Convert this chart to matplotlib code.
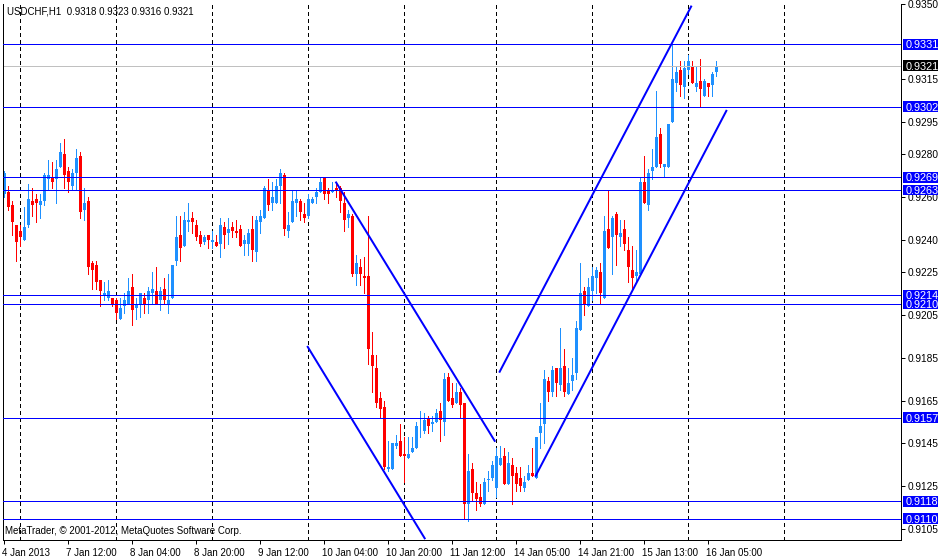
import matplotlib
matplotlib.use("Agg")
import matplotlib.pyplot as plt
from matplotlib.patches import Rectangle
from matplotlib.transforms import blended_transform_factory, ScaledTranslation

# hourly USDCHF bars, 4 Jan 2013 20:00 .. 16 Jan 2013 07:00
opens = [
    0.9261, 0.9262, 0.9256, 0.9247, 0.9244, 0.9240, 0.9247, 0.9258, 0.9259, 0.9256,
    0.9258, 0.9268, 0.9269, 0.9268, 0.9274, 0.9280, 0.9272, 0.9265, 0.9271, 0.9279,
    0.9254, 0.9258, 0.9229, 0.9228, 0.9221, 0.9214, 0.9213, 0.9213, 0.9212, 0.9203,
    0.9209, 0.9210, 0.9218, 0.9208, 0.9210, 0.9213, 0.9212, 0.9215, 0.9216, 0.9212,
    0.9217, 0.9210, 0.9213, 0.9230, 0.9242, 0.9237, 0.9248, 0.9250, 0.9247, 0.9242,
    0.9239, 0.9242, 0.9239, 0.9239, 0.9238, 0.9246, 0.9243, 0.9246, 0.9244, 0.9245,
    0.9238, 0.9238, 0.9245, 0.9234, 0.9248, 0.9250, 0.9263, 0.9257, 0.9257, 0.9265,
    0.9270, 0.9244, 0.9248, 0.9257, 0.9258, 0.9252, 0.9251, 0.9257, 0.9260, 0.9262,
    0.9269, 0.9263, 0.9262, 0.9264, 0.9264, 0.9257, 0.9250, 0.9251, 0.9224, 0.9227,
    0.9223, 0.9223, 0.9186, 0.9180, 0.9166, 0.9162, 0.9133, 0.9133, 0.9144, 0.9146,
    0.9140, 0.9138, 0.9141, 0.9143, 0.9152, 0.9151, 0.9157, 0.9154, 0.9155, 0.9160,
    0.9155, 0.9176, 0.9166, 0.9164, 0.9169, 0.9164, 0.9117, 0.9133, 0.9122, 0.9120,
    0.9117, 0.9128, 0.9129, 0.9124, 0.9135, 0.9139, 0.9126, 0.9135, 0.9131, 0.9129,
    0.9124, 0.9128, 0.9131, 0.9129, 0.9150, 0.9154, 0.9174, 0.9169, 0.9180, 0.9172,
    0.9181, 0.9168, 0.9174, 0.9178, 0.9198, 0.9216, 0.9209, 0.9216, 0.9222, 0.9225,
    0.9213, 0.9245, 0.9241, 0.9252, 0.9241, 0.9245, 0.9235, 0.9226, 0.9223, 0.9224,
    0.9267, 0.9256, 0.9272, 0.9274, 0.9289, 0.9274, 0.9274, 0.9295, 0.9313, 0.9319,
    0.9311, 0.9319, 0.9321, 0.9311, 0.9314, 0.9307, 0.9313, 0.9312, 0.9318,
]
highs = [
    0.9272, 0.9265, 0.9258, 0.9247, 0.9247, 0.9255, 0.9266, 0.9264, 0.9261, 0.9261,
    0.9271, 0.9277, 0.9276, 0.9277, 0.9285, 0.9287, 0.9274, 0.9273, 0.9282, 0.9281,
    0.9264, 0.9260, 0.9230, 0.9230, 0.9221, 0.9220, 0.9221, 0.9213, 0.9213, 0.9213,
    0.9215, 0.9222, 0.9224, 0.9213, 0.9215, 0.9215, 0.9218, 0.9225, 0.9227, 0.9218,
    0.9222, 0.9224, 0.9228, 0.9251, 0.9251, 0.9253, 0.9257, 0.9253, 0.9249, 0.9244,
    0.9242, 0.9242, 0.9244, 0.9242, 0.9250, 0.9248, 0.9250, 0.9248, 0.9249, 0.9247,
    0.9242, 0.9245, 0.9251, 0.9251, 0.9254, 0.9265, 0.9268, 0.9267, 0.9268, 0.9273,
    0.9271, 0.9253, 0.9263, 0.9263, 0.9259, 0.9257, 0.9261, 0.9260, 0.9264, 0.9269,
    0.9269, 0.9264, 0.9267, 0.9267, 0.9265, 0.9262, 0.9254, 0.9252, 0.9233, 0.9231,
    0.9232, 0.9251, 0.9197, 0.9186, 0.9169, 0.9165, 0.9146, 0.9145, 0.9149, 0.9154,
    0.9148, 0.9148, 0.9148, 0.9155, 0.9160, 0.9159, 0.9158, 0.9158, 0.9161, 0.9164,
    0.9178, 0.9178, 0.9173, 0.9173, 0.9171, 0.9164, 0.9140, 0.9136, 0.9127, 0.9126,
    0.9129, 0.9132, 0.9137, 0.9143, 0.9144, 0.9143, 0.9141, 0.9138, 0.9134, 0.9134,
    0.9130, 0.9135, 0.9143, 0.9148, 0.9164, 0.9179, 0.9176, 0.9181, 0.9180, 0.9199,
    0.9189, 0.9180, 0.9185, 0.9202, 0.9229, 0.9218, 0.9222, 0.9227, 0.9227, 0.9229,
    0.9251, 0.9263, 0.9251, 0.9253, 0.9249, 0.9249, 0.9241, 0.9237, 0.9235, 0.9269,
    0.9279, 0.9273, 0.9282, 0.9309, 0.9292, 0.9275, 0.9294, 0.9331, 0.9321, 0.9323,
    0.9323, 0.9326, 0.9323, 0.9321, 0.9324, 0.9315, 0.9313, 0.9318, 0.9323,
]
lows = [
    0.9260, 0.9254, 0.9242, 0.9230, 0.9237, 0.9240, 0.9246, 0.9251, 0.9248, 0.9250,
    0.9256, 0.9263, 0.9264, 0.9257, 0.9274, 0.9264, 0.9262, 0.9263, 0.9263, 0.9250,
    0.9249, 0.9224, 0.9217, 0.9217, 0.9209, 0.9212, 0.9212, 0.9209, 0.9203, 0.9203,
    0.9206, 0.9210, 0.9200, 0.9203, 0.9204, 0.9206, 0.9206, 0.9210, 0.9210, 0.9207,
    0.9210, 0.9206, 0.9213, 0.9228, 0.9230, 0.9237, 0.9244, 0.9243, 0.9240, 0.9237,
    0.9238, 0.9236, 0.9236, 0.9237, 0.9232, 0.9236, 0.9238, 0.9241, 0.9241, 0.9237,
    0.9233, 0.9233, 0.9230, 0.9230, 0.9243, 0.9250, 0.9254, 0.9254, 0.9257, 0.9257,
    0.9242, 0.9241, 0.9248, 0.9251, 0.9249, 0.9248, 0.9250, 0.9257, 0.9257, 0.9262,
    0.9259, 0.9257, 0.9262, 0.9260, 0.9253, 0.9244, 0.9246, 0.9223, 0.9219, 0.9219,
    0.9215, 0.9182, 0.9169, 0.9162, 0.9157, 0.9133, 0.9132, 0.9133, 0.9143, 0.9139,
    0.9127, 0.9138, 0.9141, 0.9143, 0.9148, 0.9150, 0.9150, 0.9151, 0.9155, 0.9146,
    0.9149, 0.9165, 0.9162, 0.9164, 0.9157, 0.9110, 0.9109, 0.9118, 0.9114, 0.9116,
    0.9117, 0.9123, 0.9128, 0.9120, 0.9135, 0.9126, 0.9126, 0.9117, 0.9123, 0.9123,
    0.9123, 0.9128, 0.9130, 0.9129, 0.9143, 0.9145, 0.9165, 0.9167, 0.9167, 0.9170,
    0.9167, 0.9168, 0.9170, 0.9175, 0.9198, 0.9205, 0.9209, 0.9212, 0.9215, 0.9210,
    0.9213, 0.9236, 0.9224, 0.9228, 0.9237, 0.9235, 0.9220, 0.9217, 0.9220, 0.9224,
    0.9257, 0.9254, 0.9268, 0.9274, 0.9274, 0.9269, 0.9274, 0.9295, 0.9309, 0.9307,
    0.9306, 0.9317, 0.9313, 0.9309, 0.9302, 0.9307, 0.9307, 0.9307, 0.9316,
]
closes = [
    0.9271, 0.9255, 0.9248, 0.9239, 0.9241, 0.9246, 0.9259, 0.9256, 0.9257, 0.9258,
    0.9270, 0.9270, 0.9267, 0.9273, 0.9281, 0.9270, 0.9267, 0.9271, 0.9278, 0.9253,
    0.9257, 0.9227, 0.9226, 0.9220, 0.9216, 0.9215, 0.9216, 0.9210, 0.9206, 0.9208,
    0.9212, 0.9216, 0.9207, 0.9210, 0.9215, 0.9210, 0.9216, 0.9217, 0.9210, 0.9216,
    0.9212, 0.9212, 0.9228, 0.9241, 0.9236, 0.9249, 0.9249, 0.9248, 0.9241, 0.9238,
    0.9241, 0.9240, 0.9240, 0.9237, 0.9247, 0.9242, 0.9245, 0.9244, 0.9243, 0.9237,
    0.9240, 0.9243, 0.9235, 0.9249, 0.9251, 0.9264, 0.9256, 0.9260, 0.9265, 0.9271,
    0.9245, 0.9247, 0.9258, 0.9259, 0.9253, 0.9250, 0.9259, 0.9259, 0.9262, 0.9267,
    0.9261, 0.9261, 0.9263, 0.9263, 0.9258, 0.9249, 0.9252, 0.9224, 0.9229, 0.9224,
    0.9222, 0.9189, 0.9181, 0.9164, 0.9161, 0.9134, 0.9134, 0.9145, 0.9145, 0.9139,
    0.9139, 0.9140, 0.9143, 0.9153, 0.9152, 0.9156, 0.9153, 0.9155, 0.9159, 0.9156,
    0.9175, 0.9165, 0.9163, 0.9169, 0.9163, 0.9117, 0.9132, 0.9122, 0.9119, 0.9117,
    0.9127, 0.9128, 0.9135, 0.9139, 0.9138, 0.9126, 0.9136, 0.9130, 0.9126, 0.9125,
    0.9127, 0.9131, 0.9130, 0.9148, 0.9153, 0.9175, 0.9169, 0.9179, 0.9173, 0.9180,
    0.9169, 0.9173, 0.9177, 0.9199, 0.9215, 0.9210, 0.9218, 0.9223, 0.9226, 0.9215,
    0.9244, 0.9236, 0.9250, 0.9242, 0.9243, 0.9238, 0.9227, 0.9222, 0.9225, 0.9267,
    0.9257, 0.9271, 0.9274, 0.9288, 0.9275, 0.9275, 0.9294, 0.9315, 0.9318, 0.9312,
    0.9320, 0.9323, 0.9313, 0.9313, 0.9310, 0.9314, 0.9311, 0.9317, 0.9321,
]

time_labels = ["4 Jan 2013", "7 Jan 12:00", "8 Jan 04:00", "8 Jan 20:00",
               "9 Jan 12:00", "10 Jan 04:00", "10 Jan 20:00", "11 Jan 12:00",
               "14 Jan 05:00", "14 Jan 21:00", "15 Jan 13:00", "16 Jan 05:00"]
label_every = 16                                        # bars between time labels
day_starts = [4, 28, 52, 76, 100, 123, 147, 171, 195]   # bar index of 00:00 each day

price_ticks = [0.9350, 0.9315, 0.9295, 0.9280, 0.9260, 0.9240, 0.9225,
               0.9205, 0.9185, 0.9165, 0.9145, 0.9125, 0.9105]
levels = [0.9331, 0.9302, 0.9269, 0.9263, 0.9214, 0.9210, 0.9157, 0.9118, 0.9110]
bid = 0.9321

# trend channels: (bar, price) -> (bar, price)
channels = [
    ((82.9, 0.92670), (122.8, 0.91458)),
    ((75.8, 0.91904), (105.3, 0.91004)),
    ((123.8, 0.91780), (171.9, 0.93490)),
    ((132.8, 0.91295), (180.7, 0.93004)),
]

symbol = "USDCHF,H1"
copyright_txt = "MetaTrader, \u00a9 2001-2012, MetaQuotes Software Corp."

BULL = "#1e90ff"
BEAR = "#ff0000"
LINE = "#0000ff"
PX = 0.72  # one pixel in points at 100 dpi

plt.rcParams["font.family"] = ["Liberation Sans", "DejaVu Sans"]
plt.rcParams["lines.scale_dashes"] = False

W, H = 938, 557
fig = plt.figure(figsize=(W / 100, H / 100), dpi=100)
fig.patch.set_facecolor("white")
ax = fig.add_axes([3 / W, 17 / H, 898 / W, 536.5 / H])
ax.set_facecolor("white")

n = len(opens)
ax.set_xlim(-0.25, 224.25)
ax.set_ylim(0.9100, 0.9350)

# day separators
for d in day_starts:
    ax.axvline(d, color="black", lw=PX, dashes=(2.2, 2.2), zorder=1, antialiased=False)

# candles
for i in range(n):
    col = BULL if closes[i] >= opens[i] else BEAR
    ax.vlines(i, lows[i], highs[i], color=col, lw=PX, zorder=2, antialiased=False)
    lo = min(opens[i], closes[i])
    hgt = max(abs(closes[i] - opens[i]), 0.00004)
    ax.bar(i, hgt, bottom=lo, width=0.75, color=col, lw=0, zorder=2, antialiased=False)

# horizontal levels and bid line
for lv in levels:
    ax.axhline(lv, color=LINE, lw=PX, zorder=3, antialiased=False)
ax.axhline(bid, color="#c0c0c0", lw=PX, zorder=2.5, antialiased=False)

# trend channels
for (x0, y0), (x1, y1) in channels:
    ax.plot([x0, x1], [y0, y1], color=LINE, lw=PX * 2, zorder=4, solid_capstyle="butt")

# axes frame
ax.spines["top"].set_visible(False)
for s in ("left", "right", "bottom"):
    ax.spines[s].set_linewidth(PX)
    ax.spines[s].set_color("black")

ax.yaxis.tick_right()
ax.set_yticks(price_ticks)
ax.set_yticklabels(["%.4f" % p for p in price_ticks])
ax.tick_params(axis="y", direction="out", length=3, width=PX, pad=1.5,
               labelsize=7.3, colors="black")

tick_pos = [k * label_every for k in range(len(time_labels))]
ax.set_xticks(tick_pos)
ax.set_xticklabels(time_labels, ha="left")
ax.tick_params(axis="x", direction="out", length=3, width=PX, pad=2.5, labelsize=7)

# labels start just left of their tick, as on the terminal
shift = ScaledTranslation(-2 / 100, 0, fig.dpi_scale_trans)
for lbl in ax.get_xticklabels():
    lbl.set_transform(lbl.get_transform() + shift)

# level tags on the price scale
tr = blended_transform_factory(ax.transAxes, ax.transData)
box_h = 10.5 / (536.5 / 0.0250)   # tag height in price units
box_x = (903 - 3) / 898
box_w = 35 / 898
for lv in levels + [bid]:
    fc = "black" if lv == bid else LINE
    ax.add_patch(Rectangle((box_x, lv - box_h / 2), box_w, box_h, transform=tr,
                           facecolor=fc, edgecolor="none", clip_on=False, zorder=6))
    ax.text(box_x + 2.5 / 898, lv, "%.4f" % lv, transform=tr, color="white",
            fontsize=7.8, va="center_baseline", ha="left", clip_on=False, zorder=7)

fig.text(7 / W, 1 - 11 / H, "%s  %.4f %.4f %.4f %.4f" % (symbol, opens[-1], highs[-1], lows[-1], closes[-1]),
         fontsize=7, va="center", ha="left")
fig.text(5 / W, 1 - 531 / H, copyright_txt, fontsize=7, va="center", ha="left")

fig.savefig("out.png", dpi=100, facecolor="white")
